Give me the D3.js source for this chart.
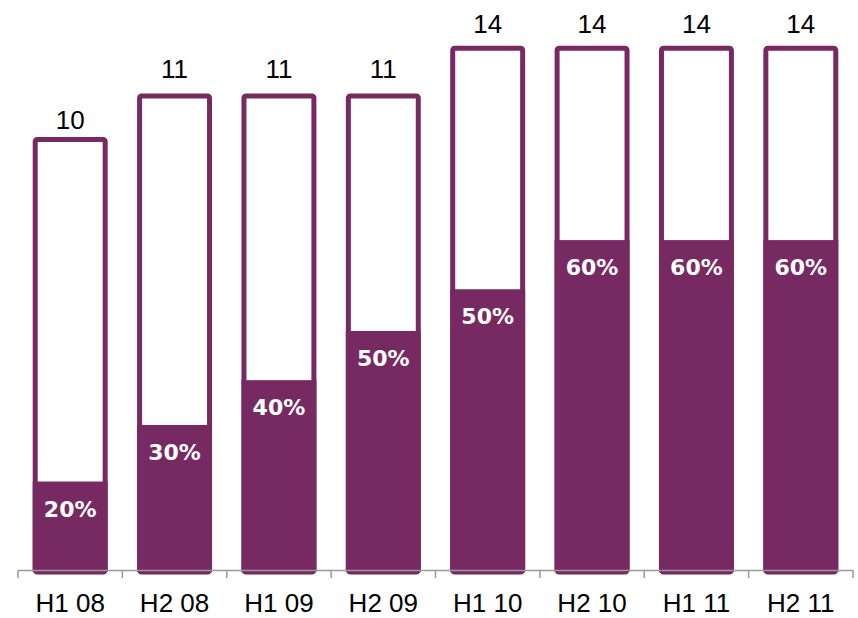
<!DOCTYPE html>
<html>
<head>
  <script src="https://cdnjs.cloudflare.com/ajax/libs/d3/7.8.5/d3.min.js"></script>
  <style>
    body { margin: 0; background: #fff; }
    .total-label { font-family: "Liberation Sans", Arial, sans-serif; font-size: 26px; fill: #000; }
    .cat-label { font-family: "Liberation Sans", Arial, sans-serif; font-size: 26px; fill: #000; }
    .pct-label { font-family: "DejaVu Sans", sans-serif; font-weight: bold; font-size: 22px; fill: #fff; }
  </style>
</head>
<body>
  <div id="chart"></div>
  <script>
    // Data
    const categories = ["H1 08", "H2 08", "H1 09", "H2 09", "H1 10", "H2 10", "H1 11", "H2 11"];
    const totalLabels = ["10", "11", "11", "11", "14", "14", "14", "14"];
    // drawn heights of the outlined bars (the 14s are drawn shorter in the source)
    const barHeights = [10, 11, 11, 11, 12.1, 12.1, 12.1, 12.1];
    // drawn heights of the filled part
    const fillHeights = [2.08, 3.38, 4.41, 5.54, 6.5, 7.63, 7.63, 7.63];
    const shareLabels = ["20%", "30%", "40%", "50%", "50%", "60%", "60%", "60%"];

    const W = 858, H = 618;
    const purple = "#772961";
    const sw = 5;

    const svg = d3.select("#chart").append("svg")
      .attr("width", W)
      .attr("height", H);

    const x = d3.scaleBand()
      .domain(categories)
      .range([18, 853])
      .paddingInner(0.282)
      .paddingOuter(0.141);

    const baseY = 572;
    const y = d3.scaleLinear()
      .domain([0, 12.2])
      .range([baseY, baseY - 12.2 * 43.5]);

    const rows = categories.map((c, i) => ({
      cat: c, total: barHeights[i], fill: fillHeights[i],
      totalLabel: totalLabels[i], share: shareLabels[i]
    }));

    // gap between bar top and its total label differs a bit in the source
    const labelGap = d => d.totalLabel === "10" ? 8 : d.totalLabel === "11" ? 16 : 13;

    // outlined bars
    svg.selectAll(".outline")
      .data(rows)
      .enter().append("rect")
        .attr("class", "outline")
        .attr("x", d => x(d.cat) + sw / 2)
        .attr("y", d => y(d.total) + sw / 2)
        .attr("width", x.bandwidth() - sw)
        .attr("height", d => baseY - y(d.total) - sw / 2)
        .attr("rx", 2)
        .style("fill", "#fff")
        .style("stroke", purple)
        .style("stroke-width", sw)
        .style("stroke-linejoin", "round");

    // filled part
    svg.selectAll(".fill")
      .data(rows)
      .enter().append("rect")
        .attr("class", "fill")
        .attr("x", d => x(d.cat))
        .attr("y", d => y(d.fill))
        .attr("width", x.bandwidth())
        .attr("height", d => baseY - y(d.fill))
        .style("fill", purple);

    // totals above bars
    svg.selectAll(".total-label")
      .data(rows)
      .enter().append("text")
        .attr("class", "total-label")
        .attr("x", d => x(d.cat) + x.bandwidth() / 2)
        .attr("y", d => y(d.total) - labelGap(d))
        .attr("text-anchor", "middle")
        .text(d => d.totalLabel);

    // share labels inside fill
    svg.selectAll(".pct-label")
      .data(rows)
      .enter().append("text")
        .attr("class", "pct-label")
        .attr("x", d => x(d.cat) + x.bandwidth() / 2)
        .attr("y", d => y(d.fill) + 35)
        .attr("text-anchor", "middle")
        .text(d => d.share);

    // category axis
    const axis = svg.append("g");
    axis.append("line")
      .attr("x1", 18).attr("x2", 853)
      .attr("y1", 570.5).attr("y2", 570.5)
      .style("stroke", "#9a9a9a")
      .style("stroke-width", 1.5);

    const edges = categories.map(c => x(c) - x.step() * x.paddingInner() / 2);
    edges[0] = 18;
    edges.push(853);
    axis.selectAll(".tick")
      .data(edges)
      .enter().append("line")
        .attr("x1", d => d).attr("x2", d => d)
        .attr("y1", 570).attr("y2", 578)
        .style("stroke", "#9a9a9a")
        .style("stroke-width", 1.5);

    axis.selectAll(".cat-label")
      .data(categories)
      .enter().append("text")
        .attr("class", "cat-label")
        .attr("x", d => x(d) + x.bandwidth() / 2)
        .attr("y", 612)
        .attr("text-anchor", "middle")
        .text(d => d);
  </script>
</body>
</html>
